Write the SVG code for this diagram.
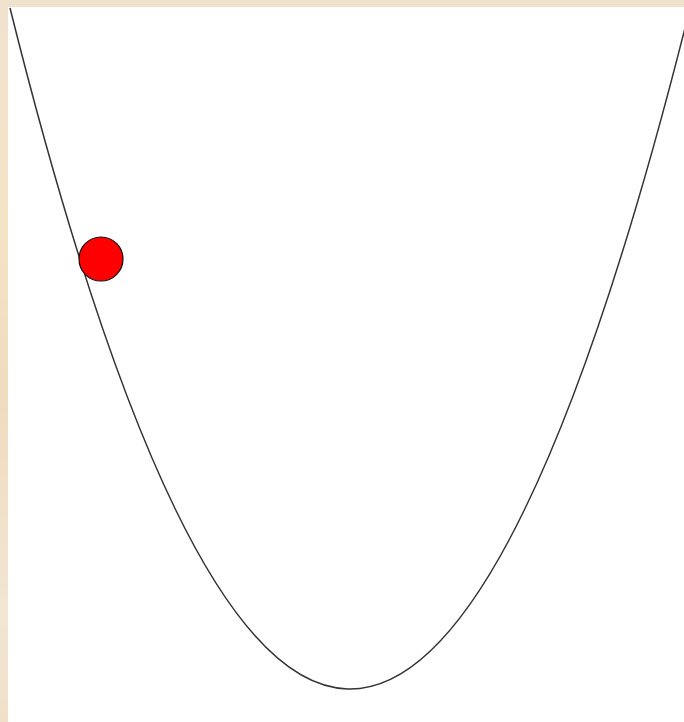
<svg xmlns="http://www.w3.org/2000/svg" width="684" height="722" viewBox="0 0 684 722">
  <defs>
    <linearGradient id="parch" x1="0" y1="0" x2="0" y2="1">
      <stop offset="0" stop-color="#f1e2ce"/>
      <stop offset="0.3" stop-color="#f4e4c6"/>
      <stop offset="0.55" stop-color="#efdcbf"/>
      <stop offset="0.85" stop-color="#f2e6d2"/>
      <stop offset="1" stop-color="#f0e0c8"/>
    </linearGradient>
    <style>
      .curve { fill: none; stroke: #333333; stroke-width: 1.5; }
      .ball { fill: #ff0000; stroke: #111111; stroke-width: 1.2; }
    </style>
  </defs>
  <rect x="0" y="0" width="684" height="722" fill="url(#parch)"/>
  <rect x="8" y="7" width="676" height="715" fill="#ffffff"/>
  <g id="connectors">
    <path id="parabola" class="curve" d="M10,8 Q347.5,1359.8 685,28"/>
  </g>
  <g id="ball">
    <circle class="ball" cx="101" cy="259" r="22"/>
  </g>
</svg>
